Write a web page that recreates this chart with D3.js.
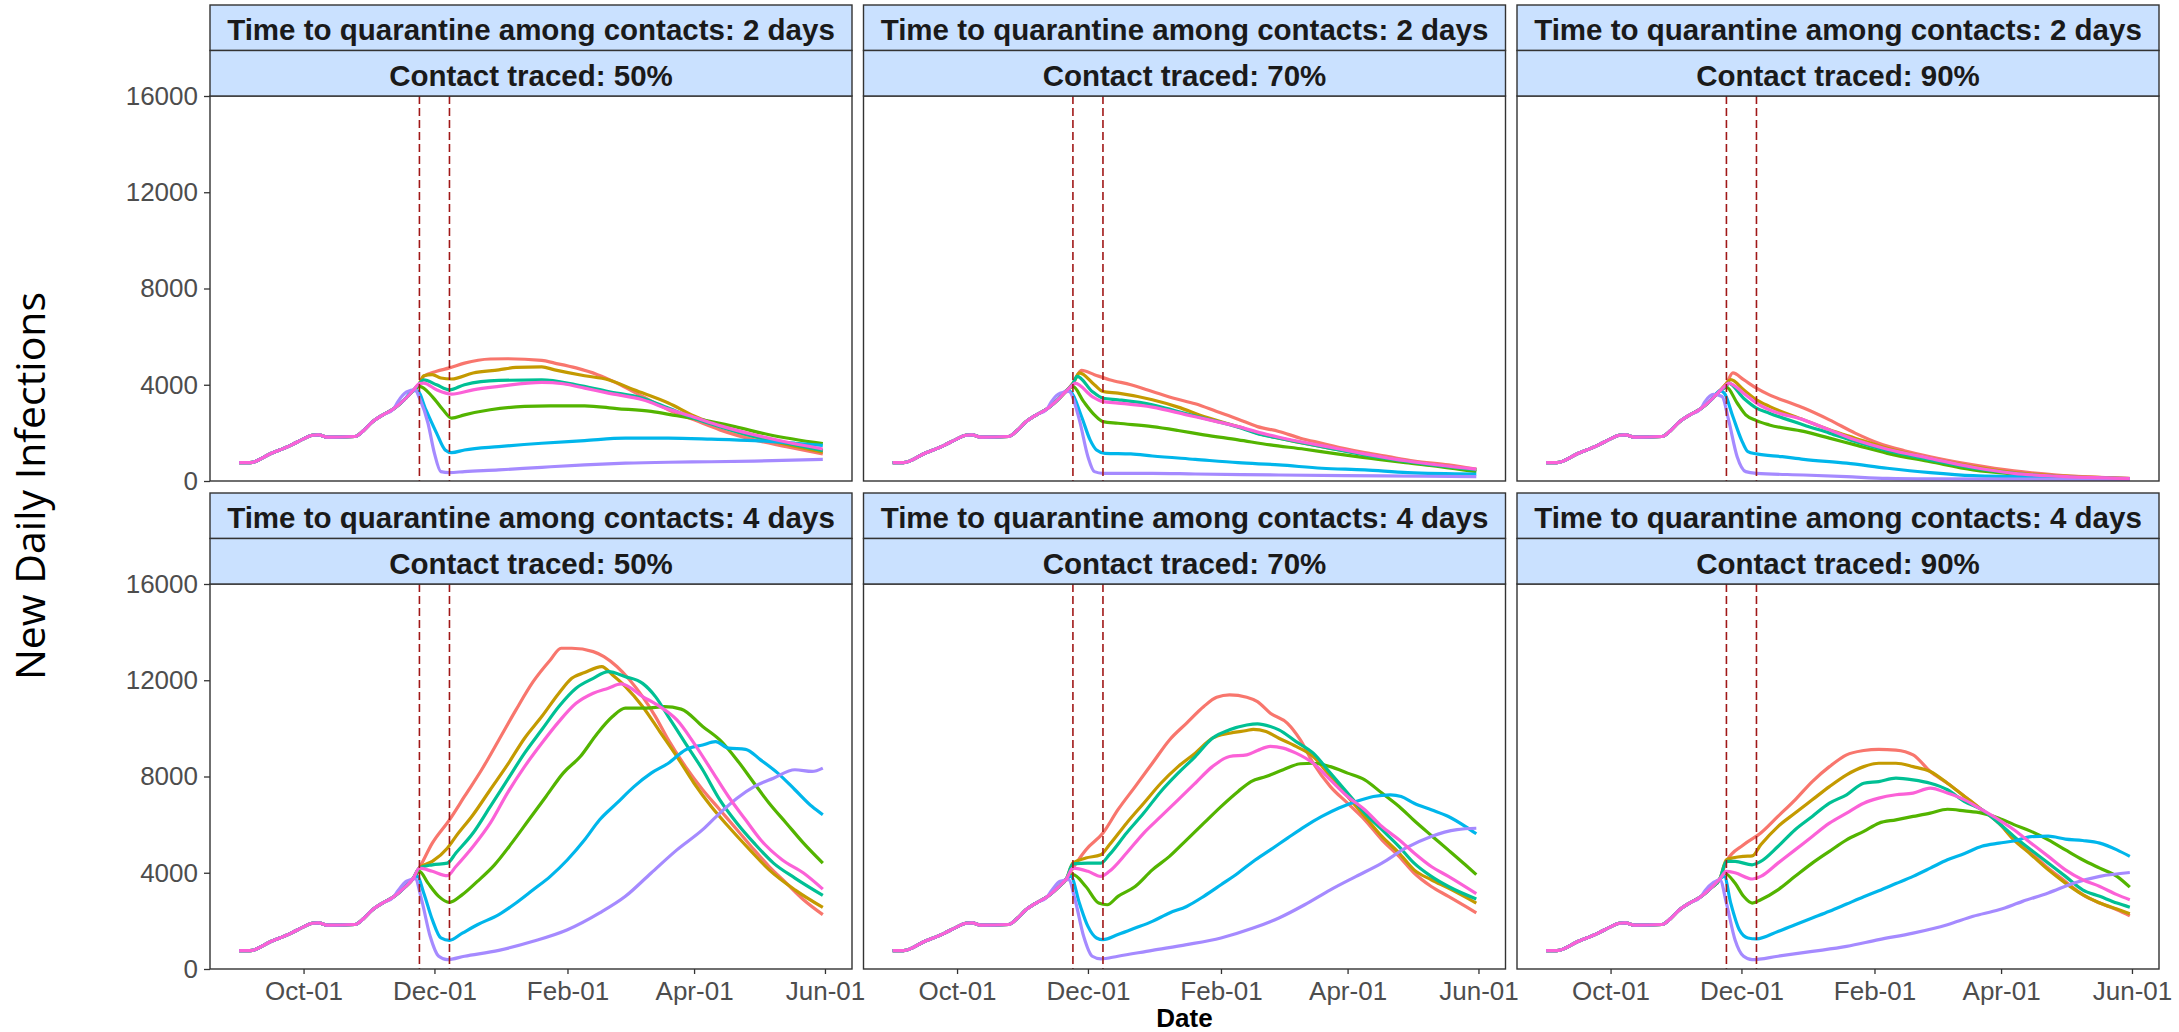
<!DOCTYPE html>
<html>
<head>
<meta charset="utf-8">
<script src="https://cdn.jsdelivr.net/npm/d3@7"></script>
<style>
  body { margin: 0; background: #fff; }
  svg { display: block; }
</style>
</head>
<body>
<div class="chart"></div>
<script>
// days are counted from the first simulated day
var startDate = "2020-09-01";

var colors = ["#F8766D", "#C49A00", "#53B400", "#00C094", "#00B6EB", "#A58AFF", "#FB61D7"];
var quarantineDays = ["2 days", "4 days"];
var tracedLevels = ["50%", "70%", "90%"];
var yTicks = [0, 4000, 8000, 12000, 16000];
var xTickDates = ["2020-10-01", "2020-12-01", "2021-02-01", "2021-04-01", "2021-06-01"];
var markerDates = ["2020-11-24", "2020-12-08"];

// shared curve before the intervention: [day, infections]
var baseCurve = [[0,760],[5,760],[15,1150],[24,1480],[30,1750],[34,1900],[37,1920],[41,1820],[54,1850],
  [58,2100],[62,2450],[67,2750],[72,3000],[77,3380],[81,3750],[84,4050]];

// series order: red, gold, green, teal, blue, purple, pink
var q2_t50 = [
  [[84,4050],[86,4350],[92,4560],[98,4700],[105,4900],[117,5070],[125,5080],[141,5010],[147,4900],[157,4700],[167,4420],[176,4070],[188,3510],[200,2960],[212,2540],[224,2125],[240,1710],[255,1430],[272,1120]],
  [[84,4050],[86,4375],[90,4420],[94,4280],[99,4240],[109,4490],[121,4620],[129,4720],[141,4740],[147,4620],[161,4375],[172,4210],[184,3790],[200,3240],[212,2700],[224,2280],[240,1850],[255,1520],[272,1200]],
  [[84,3930],[90,3510],[95,2960],[99,2610],[105,2750],[117,2960],[133,3100],[145,3125],[161,3125],[176,3010],[192,2890],[204,2710],[216,2540],[231,2260],[247,1920],[272,1550]],
  [[84,4050],[86,4200],[92,4000],[98,3790],[105,4000],[121,4180],[141,4200],[157,4000],[172,3720],[188,3440],[200,3030],[212,2610],[224,2260],[240,1850],[255,1570],[272,1260]],
  [[83,3750],[87,2960],[92,1990],[96,1290],[99,1180],[105,1290],[121,1430],[141,1570],[161,1680],[180,1780],[200,1780],[220,1740],[240,1680],[259,1570],[272,1480]],
  [[74,3300],[78,3700],[82,3800],[84,3450],[88,2400],[91,1150],[94,390],[98,350],[105,390],[121,460],[141,570],[161,670],[180,740],[200,780],[220,800],[240,830],[272,900]],
  [[84,4050],[86,4070],[92,3790],[99,3610],[109,3790],[121,3930],[141,4100],[151,4040],[161,3860],[172,3650],[188,3375],[200,2990],[212,2650],[224,2300],[240,1920],[255,1620],[272,1330]]
];

var q2_t70 = [
  [[84,4050],[88,4600],[94,4420],[101,4210],[111,4000],[121,3720],[131,3440],[141,3210],[151,2890],[161,2570],[170,2260],[180,2060],[190,1780],[200,1570],[210,1360],[220,1180],[231,1010],[243,830],[259,670],[272,490]],
  [[84,4050],[87,4490],[94,4000],[98,3720],[105,3650],[121,3375],[133,3070],[145,2680],[161,2260],[170,1990],[180,1780],[200,1430],[220,1120],[240,830],[272,460]],
  [[84,3930],[89,3300],[94,2750],[98,2470],[105,2400],[121,2260],[133,2100],[145,1920],[161,1710],[176,1500],[192,1320],[207,1125],[223,940],[239,760],[255,600],[272,390]],
  [[84,4050],[86,4350],[93,3720],[98,3440],[105,3375],[121,3170],[133,2890],[145,2610],[161,2240],[172,1920],[180,1780],[200,1430],[220,1080],[240,800],[272,460]],
  [[83,3700],[88,2680],[92,1710],[95,1290],[99,1150],[111,1125],[121,1040],[141,900],[161,760],[180,670],[200,530],[220,460],[240,350],[272,290]],
  [[74,3300],[78,3650],[82,3720],[87,2540],[91,1010],[94,390],[98,320],[121,320],[141,290],[180,250],[229,210],[272,180]],
  [[84,4000],[85,4070],[93,3510],[98,3300],[105,3240],[121,3070],[137,2750],[151,2470],[161,2260],[172,1990],[180,1820],[200,1470],[220,1130],[240,830],[272,490]]
];

var q2_t90 = [
  [[84,4050],[87,4490],[92,4210],[98,3860],[104,3580],[112,3300],[120,3030],[132,2540],[144,1990],[155,1570],[167,1260],[179,1010],[199,670],[218,420],[238,250],[258,150],[272,110]],
  [[84,4050],[86,4210],[92,3790],[98,3375],[104,3100],[120,2540],[132,2125],[144,1780],[159,1360],[179,940],[199,600],[218,350],[238,220],[272,100]],
  [[84,3900],[89,3240],[93,2750],[98,2510],[104,2330],[120,2060],[132,1780],[144,1500],[159,1150],[179,800],[199,460],[218,290],[238,180],[272,80]],
  [[84,3950],[85,4070],[92,3440],[98,3030],[104,2820],[120,2330],[132,1990],[144,1640],[159,1260],[179,875],[199,530],[218,320],[238,180],[272,80]],
  [[83,3650],[87,2680],[91,1710],[94,1220],[98,1125],[110,1010],[120,900],[140,740],[159,530],[179,350],[199,220],[218,180],[238,140],[272,100]],
  [[74,3300],[78,3600],[82,3510],[85,2540],[89,1010],[93,390],[98,320],[120,250],[140,180],[159,110],[179,90],[272,70]],
  [[84,4000],[85,4070],[92,3650],[98,3240],[104,2960],[120,2540],[132,2125],[144,1710],[159,1320],[179,940],[199,570],[218,320],[238,200],[272,100]]
];

var q4_t50 = [
  [[84,4200],[90,5230],[98,6200],[105,7170],[113,8280],[121,9520],[129,10770],[137,11940],[145,12840],[150,13330],[155,13330],[165,13190],[170,12980],[176,12570],[182,12010],[188,11320],[194,10490],[200,9520],[208,8410],[216,7450],[224,6620],[232,5790],[240,4950],[247,4260],[255,3570],[263,2880],[272,2260]],
  [[84,4200],[90,4470],[97,5020],[101,5510],[109,6410],[117,7450],[125,8480],[133,9590],[141,10490],[149,11460],[155,12080],[161,12320],[169,12570],[174,12220],[180,11740],[188,10910],[196,9870],[204,8830],[212,7720],[220,6750],[228,5920],[238,4950],[247,4120],[259,3290],[272,2560]],
  [[84,4060],[88,3570],[93,3020],[98,2770],[104,3090],[111,3640],[119,4330],[127,5230],[135,6200],[143,7170],[151,8140],[159,8830],[167,9800],[174,10490],[180,10840],[190,10840],[198,10900],[206,10800],[216,10080],[224,9520],[232,8690],[240,7720],[247,6890],[255,6060],[263,5230],[272,4400]],
  [[84,4200],[90,4330],[97,4400],[101,4820],[109,5650],[117,6750],[125,7860],[133,8970],[141,9940],[149,10910],[157,11670],[165,12080],[172,12360],[180,12150],[188,11870],[194,11320],[200,10490],[208,9380],[216,8280],[224,7030],[232,6060],[240,5230],[249,4400],[259,3780],[272,3060]],
  [[83,3850],[86,3160],[90,2050],[94,1290],[98,1190],[104,1490],[111,1840],[121,2260],[129,2740],[137,3290],[145,3850],[153,4540],[161,5370],[168,6200],[176,6890],[184,7580],[192,8140],[200,8550],[208,9110],[216,9310],[222,9450],[228,9180],[236,9130],[243,8690],[251,8140],[259,7450],[267,6750],[272,6410]],
  [[74,3250],[78,3650],[82,3750],[85,2880],[89,1360],[93,530],[97,390],[105,530],[121,775],[137,1150],[153,1630],[168,2330],[180,3020],[192,3990],[204,4950],[216,5790],[224,6480],[232,7100],[240,7580],[249,7930],[259,8280],[267,8210],[272,8350]],
  [[84,4190],[90,4060],[97,3880],[101,4260],[109,5090],[117,6060],[125,7310],[133,8410],[141,9380],[149,10280],[157,11040],[165,11460],[172,11670],[178,11850],[188,11320],[196,10910],[204,10350],[212,9380],[220,8280],[228,7170],[236,6200],[243,5370],[253,4540],[263,3990],[272,3320]]
];

var q4_t70 = [
  [[84,4190],[90,4950],[98,5650],[105,6620],[113,7580],[121,8550],[129,9520],[137,10220],[145,10910],[151,11290],[157,11390],[165,11290],[170,11110],[176,10630],[184,10210],[190,9520],[196,8550],[204,7580],[212,6890],[220,6200],[228,5370],[236,4680],[243,3990],[251,3430],[259,3020],[267,2600],[272,2330]],
  [[84,4400],[90,4610],[97,4750],[101,5160],[109,6060],[117,6890],[125,7720],[133,8410],[141,8970],[149,9590],[157,9800],[165,9910],[168,9960],[174,9870],[180,9590],[188,9250],[196,8830],[204,8000],[212,7170],[220,6340],[228,5510],[236,4820],[243,4120],[251,3710],[259,3360],[272,2740]],
  [[84,3920],[90,3430],[96,2740],[100,2670],[105,3020],[113,3430],[121,4120],[129,4680],[137,5370],[145,6060],[153,6750],[161,7380],[167,7790],[174,8000],[182,8280],[190,8530],[196,8550],[204,8410],[212,8140],[220,7860],[228,7310],[236,6750],[243,6170],[251,5550],[259,4940],[267,4320],[272,3920]],
  [[84,4370],[91,4400],[97,4400],[101,4750],[109,5650],[117,6480],[125,7380],[133,8140],[141,8830],[149,9590],[157,9940],[165,10140],[170,10190],[176,10080],[180,9940],[188,9450],[196,8970],[204,8140],[212,7310],[220,6480],[228,5790],[236,5090],[243,4400],[251,3850],[259,3430],[272,2910]],
  [[83,3850],[87,2740],[91,1770],[95,1290],[98,1220],[105,1430],[113,1700],[121,1980],[129,2330],[137,2600],[145,3020],[153,3500],[161,3990],[168,4470],[176,4950],[184,5440],[192,5920],[200,6340],[208,6690],[216,6960],[224,7170],[232,7240],[237,7170],[243,6890],[251,6620],[259,6340],[267,5920],[272,5620]],
  [[74,3250],[78,3650],[82,3710],[85,2880],[89,1360],[93,530],[97,420],[105,530],[121,775],[137,1010],[153,1290],[168,1700],[180,2120],[192,2670],[204,3290],[216,3850],[228,4400],[239,5020],[251,5510],[263,5790],[272,5850]],
  [[84,4190],[91,4060],[97,3850],[101,4060],[109,4820],[117,5650],[125,6340],[133,7030],[141,7720],[149,8410],[157,8830],[165,8900],[170,9080],[176,9250],[182,9180],[188,8970],[196,8550],[204,7860],[212,7170],[220,6620],[228,5920],[236,5370],[243,4820],[251,4260],[259,3850],[272,3130]]
];

var q4_t90 = [
  [[84,4470],[92,5160],[100,5650],[108,6340],[116,7030],[124,7790],[132,8410],[140,8900],[148,9080],[155,9130],[163,9100],[171,8900],[179,8210],[187,7720],[195,7170],[203,6620],[211,6060],[218,5370],[226,4820],[234,4190],[242,3640],[250,3090],[258,2740],[266,2460],[272,2210]],
  [[84,4540],[92,4680],[96,4700],[100,5160],[108,5920],[116,6480],[124,7030],[132,7580],[140,8070],[148,8410],[155,8550],[163,8550],[171,8410],[179,8210],[187,7720],[195,7170],[203,6620],[211,6060],[218,5370],[226,4750],[234,4120],[242,3570],[250,3090],[258,2740],[266,2490],[272,2300]],
  [[83,3990],[88,3570],[92,3020],[96,2740],[100,2880],[108,3290],[116,3850],[124,4400],[132,4890],[140,5370],[148,5720],[155,6060],[163,6200],[171,6340],[179,6480],[187,6640],[195,6570],[203,6480],[211,6270],[218,6000],[226,5720],[234,5370],[242,4950],[250,4540],[258,4190],[266,3850],[272,3400]],
  [[84,4470],[88,4470],[96,4330],[100,4470],[108,5090],[116,5790],[124,6340],[132,6890],[140,7240],[148,7720],[155,7790],[163,7930],[171,7860],[179,7720],[187,7450],[195,6960],[203,6620],[211,6060],[218,5510],[226,4950],[234,4400],[242,3850],[250,3290],[258,3020],[266,2740],[272,2570]],
  [[83,3850],[86,2740],[90,1630],[94,1290],[98,1250],[108,1560],[116,1840],[124,2120],[132,2400],[140,2700],[148,3000],[155,3250],[163,3550],[171,3850],[179,4190],[187,4540],[195,4800],[203,5100],[211,5230],[218,5320],[226,5500],[234,5520],[242,5400],[250,5340],[258,5230],[266,4950],[272,4680]],
  [[74,3250],[78,3600],[81,3710],[84,2740],[88,1220],[92,530],[96,390],[108,530],[124,730],[140,940],[155,1220],[171,1490],[187,1840],[199,2190],[211,2460],[222,2810],[234,3160],[246,3570],[258,3850],[272,4010]],
  [[84,4060],[88,4000],[96,3740],[100,3850],[108,4400],[116,4950],[124,5510],[132,6060],[140,6480],[148,6890],[155,7100],[163,7240],[171,7310],[179,7520],[187,7310],[195,7030],[203,6620],[211,6200],[218,5790],[226,5230],[234,4680],[242,4120],[250,3710],[258,3430],[266,3090],[272,2880]]
];

var panels = [q2_t50, q2_t70, q2_t90, q4_t50, q4_t70, q4_t90];

var svgWidth = 2179;
var svgHeight = 1032;

// facet layout
var plotLeft = 210;
var panelW = 642;
var gapX = 11.5;
var rowTops = [5, 493];
var stripH = 45.5;
var panelH = 385;

var font = "'Liberation Sans', Arial, sans-serif";

var parseDate = d3.timeParse("%Y-%m-%d");
var day0 = parseDate(startDate);
var toDate = function(d) { return d3.timeDay.offset(day0, d); };

// x domain: data extent plus 5% on each side, like ggplot
var allDays = baseCurve.map(p => p[0]);
panels.forEach(p => p.forEach(s => s.forEach(pt => allDays.push(pt[0]))));
var dExt = d3.extent(allDays).map(toDate);
var padMs = (dExt[1] - dExt[0]) * 0.05;

var x = d3.scaleTime()
  .domain([new Date(+dExt[0] - padMs), new Date(+dExt[1] + padMs)])
  .range([0, panelW]);
var y = d3.scaleLinear().domain([0, 16000]).range([panelH, 0]);

var line = d3.line()
  .x(p => x(toDate(p[0])))
  .y(p => y(p[1]))
  .curve(d3.curveMonotoneX);

var svg = d3.select(".chart")
  .append("svg")
  .attr("width", svgWidth)
  .attr("height", svgHeight);

svg.append("rect").attr("width", svgWidth).attr("height", svgHeight).attr("fill", "#fff");

panels.forEach(function(seriesList, i) {
  var r = Math.floor(i / 3), c = i % 3;
  var x0 = plotLeft + c * (panelW + gapX);
  var sTop = rowTops[r];
  var pTop = sTop + 2 * stripH;

  var g = svg.append("g").attr("transform", `translate(${x0}, ${pTop})`);

  // strips
  var labels = ["Time to quarantine among contacts: " + quarantineDays[r], "Contact traced: " + tracedLevels[c]];
  labels.forEach(function(lab, k) {
    var sy = sTop + k * stripH;
    svg.append("rect")
      .attr("x", x0).attr("y", sy)
      .attr("width", panelW).attr("height", stripH)
      .attr("fill", "#CAE1FF")
      .attr("stroke", "#333").attr("stroke-width", 1.4);
    svg.append("text")
      .attr("x", x0 + panelW / 2).attr("y", sy + 35)
      .attr("text-anchor", "middle")
      .style("font-family", font).style("font-weight", "bold")
      .style("font-size", "29.5px").style("fill", "#1A1A1A")
      .text(lab);
  });

  g.append("rect")
    .attr("width", panelW).attr("height", panelH)
    .attr("fill", "#fff");

  // lines
  seriesList.forEach(function(s, k) {
    var pts = baseCurve.filter(p => p[0] < s[0][0]).concat(s);
    g.append("path")
      .datum(pts)
      .attr("d", line)
      .attr("fill", "none")
      .attr("stroke", colors[k])
      .attr("stroke-width", 3.2)
      .attr("stroke-linejoin", "round");
  });

  // intervention markers
  markerDates.forEach(function(md) {
    var xm = x(parseDate(md));
    g.append("line")
      .attr("x1", xm).attr("x2", xm)
      .attr("y1", 0).attr("y2", panelH)
      .attr("stroke", "#A01818")
      .attr("stroke-width", 1.6)
      .attr("stroke-dasharray", "8,4");
  });

  g.append("rect")
    .attr("width", panelW).attr("height", panelH)
    .attr("fill", "none")
    .attr("stroke", "#333").attr("stroke-width", 1.4);

  if (c === 0) {
    var yAxis = g.append("g")
      .call(d3.axisLeft(y).tickValues(yTicks).tickFormat(d3.format("d")).tickSize(6).tickPadding(6));
    yAxis.select(".domain").remove();
    yAxis.selectAll("line").attr("stroke", "#333").attr("stroke-width", 1.3);
    yAxis.selectAll("text").style("font-family", font).style("font-size", "26px").style("fill", "#4D4D4D");
  }

  if (r === 1) {
    var xAxis = g.append("g")
      .attr("transform", `translate(0,${panelH})`)
      .call(d3.axisBottom(x)
        .tickValues(xTickDates.map(parseDate))
        .tickFormat(d3.timeFormat("%b-%d"))
        .tickSize(5).tickPadding(8));
    xAxis.select(".domain").remove();
    xAxis.selectAll("line").attr("stroke", "#333").attr("stroke-width", 1.3);
    xAxis.selectAll("text").style("font-family", font).style("font-size", "26px").style("fill", "#4D4D4D");
  }
});

// axis titles
svg.append("text")
  .attr("x", plotLeft + (3 * panelW + 2 * gapX) / 2)
  .attr("y", 1027)
  .attr("text-anchor", "middle")
  .style("font-family", font).style("font-weight", "bold").style("font-size", "26px")
  .style("fill", "#000")
  .text("Date");

svg.append("text")
  .attr("transform", "translate(45, 486) rotate(-90)")
  .attr("text-anchor", "middle")
  .style("font-family", "'Open Sans', sans-serif").style("font-size", "41px")
  .style("fill", "#000")
  .text("New Daily Infections");
</script>
</body>
</html>
